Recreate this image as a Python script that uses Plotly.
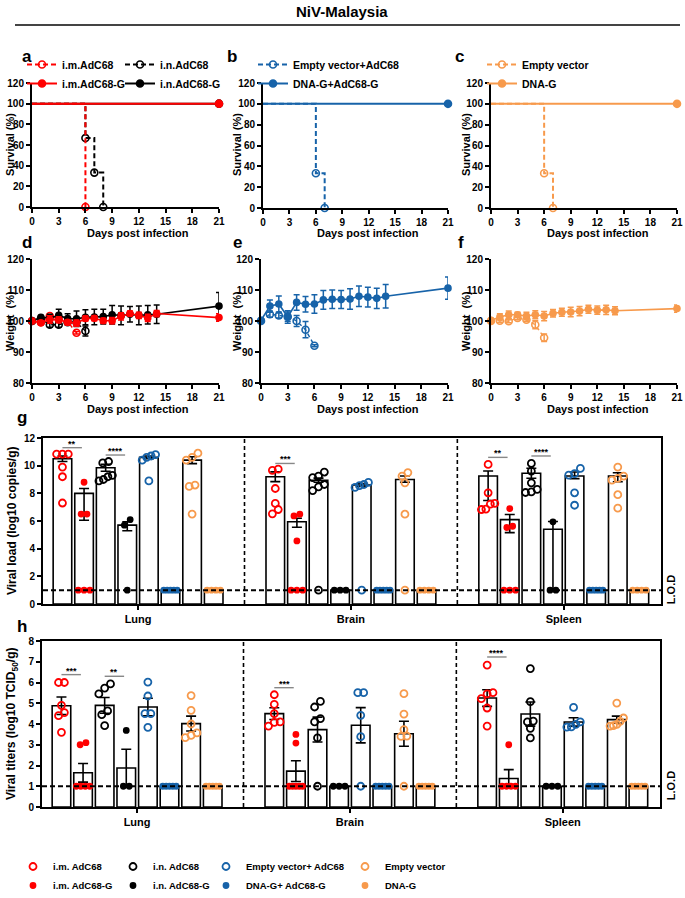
import plotly.graph_objects as go

W, H = 685, 898
FONT = "Liberation Sans, Arial, sans-serif"
RED, BLACK, BLUE, ORANGE = "#FF0000", "#000000", "#1763A9", "#F79A4C"

# ---------------- survival (a, b, c) ----------------
A_IM_DAYS, A_IM_SURV = [0, 6], [100, 0]
A_IMG_DAYS, A_IMG_SURV = [0, 21], [100, 100]
A_IN_DAYS, A_IN_SURV = [0, 6, 7, 8], [100, 66.7, 33.3, 0]
A_ING_DAYS, A_ING_SURV = [0, 21], [100, 100]
B_EV_DAYS, B_EV_SURV = [0, 6, 7], [100, 33.3, 0]
B_G_DAYS, B_G_SURV = [0, 21], [100, 100]
C_EV_DAYS, C_EV_SURV = [0, 6, 7], [100, 33.3, 0]
C_G_DAYS, C_G_SURV = [0, 21], [100, 100]

# ---------------- weight (d, e, f) ----------------
DAYS_LONG = [0, 1, 2, 3, 4, 5, 6, 7, 8, 9, 10, 11, 12, 13, 14, 21]
D_ING = [100, 101.2, 101, 101.8, 100.8, 100.7, 101.2, 101.3, 101.4, 102, 101.8, 102.2, 101.8, 102, 102.2, 104.8]
D_ING_ERR = [0, 0.6, 1.2, 2.0, 1.5, 2.5, 2.4, 2.5, 2.4, 3.0, 3.0, 2.5, 3.0, 3.0, 3.0, 4.4]
D_IMG = [100, 99.4, 100.5, 100.4, 99.6, 99.3, 100.8, 100.9, 100.1, 100.1, 101.5, 102.4, 101.8, 101, 102.4, 101.1]
D_IMG_ERR = [0, 0.6, 1.2, 1.0, 0.8, 1.0, 0.8, 0.8, 0.8, 1.0, 1.2, 0.8, 1.0, 1.2, 1.0, 1.2]
D_IM_DAYS = [0, 1, 2, 3, 4, 5]
D_IM = [100, 99.6, 101.6, 100.6, 99.8, 96.2]
D_IM_ERR = [0, 0.5, 0.5, 0.5, 0.5, 0.4]
D_IN_DAYS = [0, 1, 2, 3, 4, 5, 6]
D_IN = [100, 100.6, 98.8, 98.8, 99.6, 99.6, 96.8]
D_IN_ERR = [0, 0.5, 0.8, 0.8, 0.8, 1.0, 1.6]

E_G = [100.2, 104.8, 105.5, 101.3, 106, 105.4, 105.5, 106.8, 107, 106.9, 107.1, 108, 107.7, 107.3, 108, 110.6]
E_G_ERR = [0, 2.0, 2.6, 2.0, 2.5, 2.5, 3.0, 3.0, 3.0, 2.9, 3.3, 3.3, 3.2, 3.3, 3.8, 3.6]
E_EV_DAYS = [0, 1, 2, 3, 4, 5, 6]
E_EV = [100, 102.2, 101.8, 101.4, 100, 97.2, 92]
E_EV_ERR = [0, 1.0, 0.8, 1.5, 1.8, 2.6, 0.3]

F_G = [100.2, 101.3, 102, 102, 101.6, 102, 101.6, 102.5, 102.8, 102.9, 103.2, 103.8, 103.5, 103.6, 103.3, 104]
F_G_ERR = [0, 1.0, 1.2, 0.8, 1.2, 1.3, 1.5, 1.2, 1.3, 1.5, 1.5, 1.3, 1.3, 1.5, 1.3, 1.2]
F_EV_DAYS = [0, 1, 2, 3, 4, 5, 6]
F_EV = [100, 100.1, 99.9, 101, 100.4, 98.8, 94.6]
F_EV_ERR = [0, 0.6, 0.5, 0.6, 0.6, 1.3, 1.2]

# ---------------- viral load / titers (g, h) ----------------
REGIONS = ["Lung", "Brain", "Spleen"]
GROUPS = ["i.m. AdC68", "i.m. AdC68-G", "i.n. AdC68", "i.n. AdC68-G",
          "Empty vector+ AdC68", "DNA-G+ AdC68-G", "Empty vector", "DNA-G"]

G_MEAN = [[10.5, 8.0, 9.85, 5.7, 10.6, 1, 10.4, 1],
          [9.2, 5.95, 8.95, 1, 8.6, 1, 9.0, 1],
          [9.25, 6.1, 9.45, 5.4, 9.25, 1, 9.25, 1]]
G_ERR_UP = [[0.2, 0.35, 0.25, 0.25, 0.1, 0, 0.25, 0],
            [0.35, 0.25, 0.15, 0, 0.1, 0, 0.25, 0],
            [0.36, 0.37, 0.36, 0.56, 0.29, 0, 0.24, 0]]
G_ERR_DN = [[0.2, 1.95, 0.25, 0.4, 0.1, 0, 0.25, 0],
            [0.35, 0.4, 0.15, 0, 0.1, 0, 0.2, 0],
            [1.77, 0.94, 0.36, 4.38, 0.19, 0, 0.41, 0]]
G_PTS = [
    [[10.84, 10.84, 10.84, 9.9, 9.2, 7.3], [8.8, 6.5, 6.5, 1, 1, 1],
     [10.3, 10.2, 9.3, 9.2, 9.0, 8.9], [6.1, 5.7, 1],
     [10.8, 10.7, 10.6, 10.4, 8.9], [1, 1, 1, 1, 1],
     [10.9, 10.6, 10.4, 8.6, 8.5, 6.5], [1, 1, 1, 1]],
    [[9.75, 9.66, 8.35, 7.27, 6.83, 6.52], [6.49, 6.37, 4.56, 1, 1, 1],
     [9.54, 9.25, 9.13, 8.64, 8.47, 8.2, 1], [1, 1, 1],
     [8.79, 8.64, 8.55, 8.43, 1], [1, 1, 1, 1, 1],
     [9.5, 9.25, 8.76, 6.49, 1], [1, 1, 1, 1]],
    [[10.09, 8.04, 7.27, 7.22, 6.86, 6.83], [6.9, 5.62, 5.53, 1, 1, 1],
     [10.16, 9.6, 8.76, 8.28, 8.11, 8.06], [5.94, 1, 1],
     [9.8, 9.42, 9.32, 8.04, 7.14], [1, 1, 1, 1, 1],
     [9.9, 9.25, 9.08, 8.96, 7.9, 6.93], [1, 1, 1, 1]],
]

H_MEAN = [[4.88, 1.65, 4.9, 1.88, 4.82, 1, 4.02, 1],
          [4.5, 1.73, 3.73, 1, 3.94, 1, 3.53, 1],
          [5.25, 1.37, 4.48, 1, 4.1, 1, 4.21, 1]]
H_ERR = [[0.42, 0.45, 0.38, 0.9, 0.42, 0, 0.36, 0],
         [0.28, 0.5, 0.6, 0, 0.85, 0, 0.6, 0],
         [0.4, 0.43, 0.58, 0, 0.2, 0, 0.17, 0]]
H_PTS = [
    [[6.0, 6.0, 4.9, 4.55, 4.4, 3.6], [3.0, 3.1, 1, 1, 1, 1],
     [5.93, 5.73, 5.45, 4.63, 4.45, 3.92], [3.69, 1, 1],
     [6.02, 5.35, 4.5, 4.5, 3.84], [1, 1, 1, 1, 1],
     [5.37, 4.66, 4.0, 3.57, 3.45, 3.34], [1, 1, 1, 1, 1]],
    [[5.41, 4.95, 4.5, 4.1, 4.08, 3.9], [3.5, 3.08, 1, 1, 1, 1, 1],
     [5.09, 4.82, 4.26, 4.1, 3.33, 1], [1, 1, 1],
     [5.51, 5.51, 4.42, 3.39, 1], [1, 1, 1, 1, 1],
     [5.46, 4.48, 3.73, 3.42, 3.4, 1], [1, 1, 1, 1, 1]],
    [[6.84, 5.51, 5.45, 5.22, 4.77, 3.9], [3.0, 1, 1, 1, 1],
     [6.67, 5.08, 4.14, 4.1, 3.79, 3.33], [1, 1, 1],
     [4.8, 4.1, 3.98, 3.86, 3.85], [1, 1, 1, 1, 1],
     [5.01, 4.29, 4.13, 3.98, 3.92, 3.9], [1, 1, 1, 1, 1]],
]

G_SIG = [(0, 0, 11.3, "**"), (0, 2, 10.77, "****"), (1, 0, 10.16, "***"),
         (2, 0, 10.6, "**"), (2, 2, 10.7, "****")]
H_SIG = [(0, 0, 6.38, "***"), (0, 2, 6.3, "**"), (1, 0, 5.75, "***"), (2, 0, 7.23, "****")]

GROUP_COLORS = [RED, RED, BLACK, BLACK, BLUE, BLUE, ORANGE, ORANGE]
LOD = 1
GROUP_STEP = 9.85


def px_x(p):
    return p / W


def px_y(p):
    return 1 - p / H


def bar_x(r, g):
    return r * GROUP_STEP + g


def spread(vals, thresh, step=0.27, span=0.62):
    """beeswarm-ish horizontal offsets for points with close values"""
    order = sorted(range(len(vals)), key=lambda i: vals[i])
    offs = [0.0] * len(vals)
    clusters = []
    for i in order:
        if clusters and vals[i] - vals[clusters[-1][-1]] <= thresh:
            clusters[-1].append(i)
        else:
            clusters.append([i])
    for c in clusters:
        k = len(c)
        if k > 1:
            s = min(step, span / (k - 1))
            for j, i in enumerate(c):
                offs[i] = (j - (k - 1) / 2) * s
    return offs


tickfont = dict(family=FONT, size=10, color="black", weight="bold")


def axis(domain, anchor, **kw):
    d = dict(domain=domain, anchor=anchor, showline=True, linecolor="black", linewidth=2,
             ticks="outside", ticklen=4, tickwidth=1.5, tickcolor="black",
             showgrid=False, zeroline=False, tickfont=tickfont)
    d.update(kw)
    return d


# panel boxes in pixels: (x0, x1, ytop, ybottom)
BOX = {
    1: (32, 219, 83, 207), 2: (263, 448, 83, 208), 3: (491, 677, 83, 208),
    4: (32, 219, 259, 383), 5: (261, 448, 259, 383), 6: (491, 677, 259, 383),
    7: (43, 661, 438, 604), 8: (42, 660, 641, 807),
}

fig = go.Figure()
layout = {}
for i, (x0, x1, yt, yb) in BOX.items():
    sx = "" if i == 1 else str(i)
    xd = [px_x(x0), px_x(x1)]
    yd = [px_y(yb), px_y(yt)]
    if i <= 3:
        layout["xaxis" + sx] = axis(xd, "y" + sx, range=[0, 21], tickvals=list(range(0, 22, 3)))
        layout["yaxis" + sx] = axis(yd, "x" + sx, range=[0, 120], dtick=20)
    elif i <= 6:
        layout["xaxis" + sx] = axis(xd, "y" + sx, range=[0, 21], tickvals=list(range(0, 22, 3)))
        layout["yaxis" + sx] = axis(yd, "x" + sx, range=[80, 120], dtick=10)
    else:
        layout["xaxis" + sx] = axis(xd, "y" + sx, range=[-0.9, 27.7], mirror=True,
                                    tickvals=[bar_x(r, 3.5) for r in range(3)], ticktext=REGIONS,
                                    tickfont=dict(family=FONT, size=11, color="black", weight="bold"))
        layout["yaxis" + sx] = axis(yd, "x" + sx, mirror=True,
                                    range=[0, 12] if i == 7 else [0, 8], dtick=2 if i == 7 else 1)


def surv(days, vals, color, hollow, dashed, name, legend, ax):
    fig.add_trace(go.Scatter(
        x=days, y=vals, mode="lines+markers", name=name, legend=legend,
        legendrank=1 if hollow else 2,
        xaxis="x" + ax, yaxis="y" + ax, cliponaxis=False,
        selectedpoints=list(range(1, len(days))),
        unselected=dict(marker=dict(opacity=0)),
        line=dict(color=color, width=2, shape="hv", dash="5px,3px" if dashed else "solid"),
        marker=dict(symbol="circle-open" if hollow else "circle", size=7, color=color,
                    line=dict(width=1.6, color=color)),
    ))


surv(A_ING_DAYS, A_ING_SURV, BLACK, False, False, "i.n.AdC68-G", "legend2", "")
surv(A_IN_DAYS, A_IN_SURV, BLACK, True, True, "i.n.AdC68", "legend2", "")
surv(A_IMG_DAYS, A_IMG_SURV, RED, False, False, "i.m.AdC68-G", "legend", "")
surv(A_IM_DAYS, A_IM_SURV, RED, True, True, "i.m.AdC68", "legend", "")
surv(B_EV_DAYS, B_EV_SURV, BLUE, True, True, "Empty vector+AdC68", "legend3", "2")
surv(B_G_DAYS, B_G_SURV, BLUE, False, False, "DNA-G+AdC68-G", "legend3", "2")
surv(C_EV_DAYS, C_EV_SURV, ORANGE, True, True, "Empty vector", "legend4", "3")
surv(C_G_DAYS, C_G_SURV, ORANGE, False, False, "DNA-G", "legend4", "3")


def weight(days, vals, err, color, hollow, ax):
    fig.add_trace(go.Scatter(
        x=days, y=vals, mode="lines+markers", showlegend=False,
        xaxis="x" + ax, yaxis="y" + ax, cliponaxis=False,
        line=dict(color=color, width=1.6 if not hollow else 1.4, dash="4px,3px" if hollow else "solid"),
        marker=dict(symbol="circle-open" if hollow else "circle", size=7 if hollow else 6, color=color,
                    line=dict(width=1.6, color=color)),
        error_y=dict(type="data", array=err, color=color, thickness=1.5, width=3),
    ))


weight(D_IN_DAYS, D_IN, D_IN_ERR, BLACK, True, "4")
weight(D_IM_DAYS, D_IM, D_IM_ERR, RED, True, "4")
weight(DAYS_LONG, D_ING, D_ING_ERR, BLACK, False, "4")
weight(DAYS_LONG, D_IMG, D_IMG_ERR, RED, False, "4")
weight(DAYS_LONG, E_G, E_G_ERR, BLUE, False, "5")
weight(E_EV_DAYS, E_EV, E_EV_ERR, BLUE, True, "5")
weight(DAYS_LONG, F_G, F_G_ERR, ORANGE, False, "6")
weight(F_EV_DAYS, F_EV, F_EV_ERR, ORANGE, True, "6")


def bar_panel(ax, means, err_up, err_dn, pts, thresh, show_legend):
    xs, ys, up, dn = [], [], [], []
    for r in range(3):
        for g in range(8):
            xs.append(bar_x(r, g))
            ys.append(means[r][g])
            up.append(err_up[r][g] or None)
            dn.append(err_dn[r][g] or None)
    fig.add_trace(go.Bar(
        x=xs, y=ys, width=0.86, showlegend=False, xaxis="x" + ax, yaxis="y" + ax,
        marker=dict(color="white", line=dict(color="black", width=1.6)),
        error_y=dict(type="data", symmetric=False, array=up, arrayminus=dn,
                     color="black", thickness=1.6, width=5),
    ))
    for g in range(8):
        px, py = [], []
        for r in range(3):
            vals = pts[r][g]
            offs = spread(vals, thresh)
            px += [bar_x(r, g) + o for o in offs]
            py += vals
        hollow = g % 2 == 0
        fig.add_trace(go.Scatter(
            x=px, y=py, mode="markers", name=GROUPS[g], showlegend=show_legend,
            legend="legend%d" % (5 + g // 2), xaxis="x" + ax, yaxis="y" + ax, cliponaxis=False,
            marker=dict(symbol="circle-open" if hollow else "circle", size=7 if hollow else 5,
                        color=GROUP_COLORS[g], line=dict(width=1.8, color=GROUP_COLORS[g])),
        ))


bar_panel("7", G_MEAN, G_ERR_UP, G_ERR_DN, G_PTS, 0.43, True)
bar_panel("8", H_MEAN, H_ERR, H_ERR, H_PTS, 0.29, False)

shapes = [dict(type="line", xref="paper", yref="paper", x0=px_x(15), x1=px_x(680),
               y0=px_y(25), y1=px_y(25), line=dict(color="#444444", width=2))]
annotations = []
for ax, sig in (("7", G_SIG), ("8", H_SIG)):
    shapes.append(dict(type="line", xref="x%s domain" % ax, yref="y" + ax, x0=0, x1=1,
                       y0=LOD, y1=LOD, line=dict(color="black", width=2, dash="5px,3px")))
    for r in range(2):
        xm = (bar_x(r, 7) + bar_x(r + 1, 0)) / 2
        shapes.append(dict(type="line", xref="x" + ax, yref="y%s domain" % ax, x0=xm, x1=xm,
                           y0=0, y1=1, line=dict(color="black", width=1.6, dash="4px,3px")))
    for r, g, yv, txt in sig:
        shapes.append(dict(type="line", xref="x" + ax, yref="y" + ax, x0=bar_x(r, g),
                           x1=bar_x(r, g + 1) - 0.1, y0=yv, y1=yv, line=dict(color="#888888", width=1.4)))
        annotations.append(dict(xref="x" + ax, yref="y" + ax, x=(bar_x(r, g) + bar_x(r, g + 1)) / 2 - 0.05,
                                y=yv, text=txt, showarrow=False, yanchor="bottom", yshift=-3,
                                font=dict(family=FONT, size=9, color="black", weight="bold")))
    annotations.append(dict(xref="paper", yref="y" + ax, x=px_x(671), y=LOD, text="L.O.D",
                            textangle=-90, showarrow=False, yanchor="middle", xanchor="center",
                            font=dict(family=FONT, size=11, color="black", weight="bold")))


def text(x, y, s, size=11, angle=0):
    annotations.append(dict(xref="paper", yref="paper", x=px_x(x), y=px_y(y), text=s,
                            showarrow=False, textangle=angle, xanchor="center", yanchor="middle",
                            font=dict(family=FONT, size=size, color="black", weight="bold")))


text(342, 12, "NiV-Malaysia", 15)
for lx, ly, s in [(27, 57, "a"), (232, 57, "b"), (459, 57, "c"), (27, 242, "d"), (237, 242, "e"),
                  (461, 242, "f"), (22, 418, "g"), (22, 626, "h")]:
    text(lx, ly, s, 17)
for cx in (10, 237, 466):
    text(cx, 145, "Survival (%)", 11, -90)
    text(cx, 321, "Weight&nbsp; (%)", 11, -90)
for cx in (138, 368, 598):
    text(cx, 233, "Days post infection", 11)
    text(cx, 409, "Days post infection", 11)
text(12, 521, "Viral load (log10 copies/g)", 12, -90)
text(12, 724, "Viral titers (log10 TCID<sub>50</sub>/g)", 12, -90)


def leg(x, y, size):
    return dict(x=px_x(x), y=px_y(y), xanchor="left", yanchor="top", bgcolor="rgba(0,0,0,0)",
                font=dict(family=FONT, size=size, color="black", weight="bold"),
                itemwidth=30, tracegroupgap=0, orientation="v")


layout.update(
    legend=leg(22, 50, 10.5), legend2=leg(120, 50, 10.5), legend3=leg(253, 50, 10.5),
    legend4=leg(482, 50, 10.5),
    legend5=leg(13, 852, 9.5), legend6=leg(113, 852, 9.5), legend7=leg(206, 852, 9.5),
    legend8=leg(345, 852, 9.5),
)

fig.update_layout(
    width=W, height=H, margin=dict(l=0, r=0, t=0, b=0, autoexpand=False),
    paper_bgcolor="white", plot_bgcolor="white",
    font=dict(family=FONT, color="black"),
    shapes=shapes, annotations=annotations, barmode="overlay",
    **layout,
)
# page body has an 8px default margin; drop it so the figure fills the window
fig.write_html("out.html", config={"displayModeBar": False},
               post_script="document.body.style.margin='0';")
